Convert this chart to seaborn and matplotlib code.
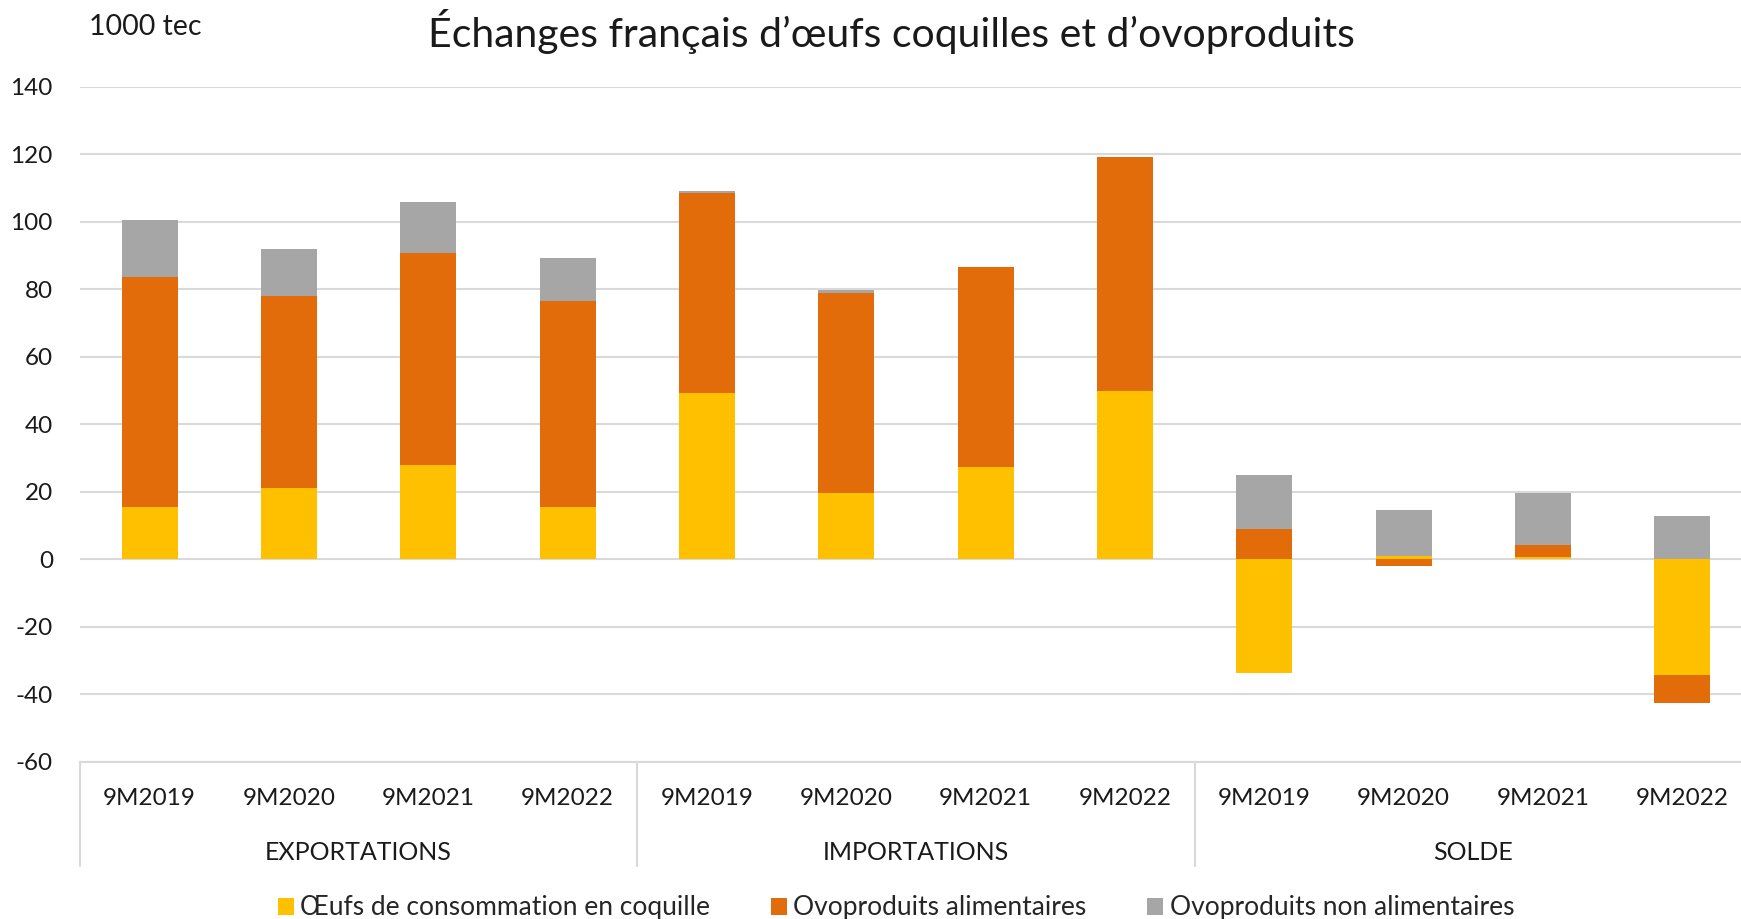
import matplotlib
matplotlib.use("Agg")
import matplotlib.pyplot as plt
import matplotlib.transforms as mtransforms
from matplotlib.patches import Patch
import seaborn as sns
import pandas as pd
import numpy as np

groups = ["EXPORTATIONS", "IMPORTATIONS", "SOLDE"]
periods = ["9M2019", "9M2020", "9M2021", "9M2022"]
series_names = ["Œufs de consommation en coquille", "Ovoproduits alimentaires", "Ovoproduits non alimentaires"]
colors = ["#FFC000", "#E36C0A", "#A6A6A6"]

oeufs = [15.5, 21.1, 28.0, 15.5, 49.1, 19.7, 27.4, 49.8, -33.6, 1.0, 0.5, -34.3]
ovo_alim = [68.2, 57.0, 62.6, 60.9, 59.4, 59.2, 59.2, 69.2, 8.8, -2.0, 3.6, -8.3]
ovo_non_alim = [16.8, 13.8, 15.1, 12.9, 0.6, 0.7, 0.1, 0.1, 16.2, 13.5, 15.5, 12.8]

FONT = ["Lato", "DejaVu Sans"]
sns.set_theme(style="white")
plt.rcParams["font.family"] = FONT
TXT = "#1a1a1a"

keys = [f"{g}|{p}" for g in groups for p in periods]
series_vals = [oeufs, ovo_alim, ovo_non_alim]

fig = plt.figure(figsize=(17.41, 9.19), dpi=100)
ax = fig.add_axes([80 / 1741, 1 - 761.7 / 919, 1672 / 1741, (761.7 - 86.6) / 919])

pos_base = np.zeros(len(keys))
neg_base = np.zeros(len(keys))
for name, vals, col in zip(series_names, series_vals, colors):
    v = np.array(vals, dtype=float)
    bottom = np.where(v >= 0, pos_base, neg_base)
    df = pd.DataFrame({"key": keys, "val": v})
    sns.barplot(data=df, x="key", y="val", order=keys, color=col, width=0.4,
                bottom=bottom, ax=ax, saturation=1, linewidth=0, errorbar=None)
    pos_base = pos_base + np.where(v >= 0, v, 0)
    neg_base = neg_base + np.where(v < 0, v, 0)

ax.set_ylim(-60, 140)
ax.set_xlim(-0.5, 11.5)
ax.set_yticks(np.arange(-60, 141, 20))
ax.set_yticklabels([str(t) for t in range(-60, 141, 20)], fontsize=17.5, color=TXT)
ax.yaxis.grid(True, color="#d9d9d9", linewidth=1.5)
ax.set_axisbelow(True)
for s in ["top", "right", "left"]:
    ax.spines[s].set_visible(False)
ax.spines["bottom"].set_color("#d9d9d9")
ax.spines["bottom"].set_linewidth(1.5)
ax.tick_params(axis="y", length=0, pad=19.5)
ax.tick_params(axis="x", length=0, pad=19)
ax.set_xticks(range(len(keys)))
ax.set_xticklabels([k.split("|")[1] for k in keys], fontsize=17.5, color=TXT)
ax.set_xlabel("")
ax.set_ylabel("")

trans = mtransforms.blended_transform_factory(ax.transData, fig.transFigure)
for i, g in enumerate(groups):
    ax.text(i * 4 + 1.5, 1 - 853 / 919, g, transform=trans, ha="center", va="center",
            fontsize=18, color=TXT)
for xb in [-0.5, 3.5, 7.5, 11.5]:
    ax.plot([xb, xb], [1 - 761.7 / 919, 1 - 866 / 919], transform=trans, color="#d9d9d9",
            linewidth=1.5, clip_on=False)

fig.text(891 / 1741, 1 - 31 / 919, "Échanges français d’œufs coquilles et d’ovoproduits",
         ha="center", va="center", fontsize=29.5, color=TXT)
fig.text(89 / 1741, 1 - 27 / 919, "1000 tec", ha="left", va="center", fontsize=20.5, color=TXT)

handles = [Patch(facecolor=c, edgecolor="none", label=n) for n, c in zip(series_names, colors)]
fig.legend(handles=handles, loc="center", bbox_to_anchor=(896 / 1741, 1 - 908 / 919), ncol=3,
           frameon=False, fontsize=19, handlelength=0.6, handleheight=0.6, handletextpad=0.25,
           columnspacing=2.3)

fig.savefig("out.png", dpi=100)
